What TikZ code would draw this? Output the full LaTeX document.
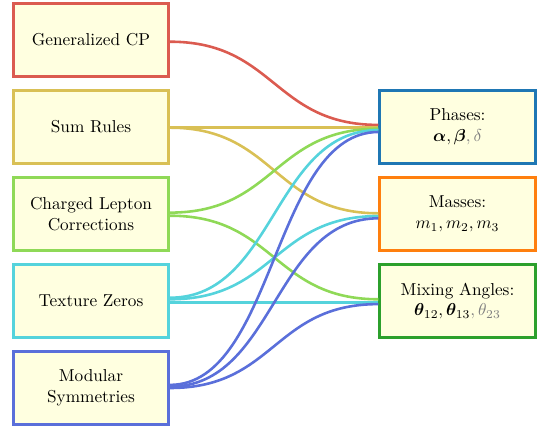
\documentclass[tikz,border=0pt]{standalone}
\usepackage{amsmath,amssymb,amsfonts}
\usepackage{bm}
\usepackage{xcolor}
\usepackage{tikz}

\definecolor{cpred}{HTML}{DB5B50}
\definecolor{sumyel}{HTML}{D9C055}
\definecolor{clgreen}{HTML}{8FD957}
\definecolor{tzcyan}{HTML}{55D3DC}
\definecolor{modblue}{HTML}{5A6FDA}
\definecolor{phblue}{HTML}{1F77B4}
\definecolor{maorange}{HTML}{FF7F0E}
\definecolor{mixgreen}{HTML}{2CA02C}
\definecolor{boxfill}{HTML}{FFFFE0}

\begin{document}
\begin{tikzpicture}[
x=0.58pt, y=0.58pt,
box/.style={draw, line width=1.7pt, fill=boxfill, minimum width=90pt, minimum height=42pt, align=center, inner sep=0pt},
link/.style={line width=1.5pt},
]
\useasboundingbox (0,0) rectangle (541,-434);

% models
\node[box, draw=cpred] (gcp) at (91,-40) {Generalized CP};
\node[box, draw=sumyel] (sum) at (91,-127) {Sum Rules};
\node[box, draw=clgreen] (clc) at (91,-214) {Charged Lepton\\Corrections};
\node[box, draw=tzcyan] (tex) at (91,-301) {Texture Zeros};
\node[box, draw=modblue] (mod) at (91,-388) {Modular\\Symmetries};

% observables
\node[box, draw=phblue] (pha) at (457.5,-127) {Phases:\\$\bm{\alpha},\bm{\beta}$\textcolor{gray}{$,\delta$}};
\node[box, draw=maorange] (mas) at (457.5,-214) {Masses:\\$m_1,m_2,m_3$};
\node[box, draw=mixgreen] (mix) at (457.5,-301) {Mixing Angles:\\$\bm{\theta}_{12},\bm{\theta}_{13}$\textcolor{gray}{$,\theta_{23}$}};

\draw[link, cpred] ([yshift=-1pt]gcp.east) .. controls +(105,0) and +(-105,0) .. ([yshift=1.2pt]pha.west);
\draw[link, sumyel] ([yshift=-0.4pt]sum.east) .. controls +(105,0) and +(-105,0) .. ([yshift=-0.4pt]pha.west);
\draw[link, sumyel] ([yshift=-0.4pt]sum.east) .. controls +(105,0) and +(-105,0) .. ([yshift=0.4pt]mas.west);
\draw[link, clgreen] ([yshift=0.8pt]clc.east) .. controls +(105,0) and +(-105,0) .. ([yshift=-1pt]pha.west);
\draw[link, clgreen] ([yshift=-1pt]clc.east) .. controls +(105,0) and +(-105,0) .. ([yshift=1pt]mix.west);
\draw[link, tzcyan] ([yshift=1.9pt]tex.east) .. controls +(105,0) and +(-105,0) .. ([yshift=-1.8pt]pha.west);
\draw[link, tzcyan] ([yshift=1pt]tex.east) .. controls +(105,0) and +(-105,0) .. ([yshift=-1.2pt]mas.west);
\draw[link, tzcyan] ([yshift=-0.8pt]tex.east) .. controls +(105,0) and +(-105,0) .. ([yshift=-0.8pt]mix.west);
\draw[link, modblue] ([yshift=1.8pt]mod.east) .. controls +(105,0) and +(-105,0) .. ([yshift=-2.9pt]pha.west);
\draw[link, modblue] ([yshift=0.8pt]mod.east) .. controls +(105,0) and +(-105,0) .. ([yshift=-2.5pt]mas.west);
\draw[link, modblue] ([yshift=0pt]mod.east) .. controls +(105,0) and +(-105,0) .. ([yshift=-1.8pt]mix.west);
\end{tikzpicture}
\end{document}
